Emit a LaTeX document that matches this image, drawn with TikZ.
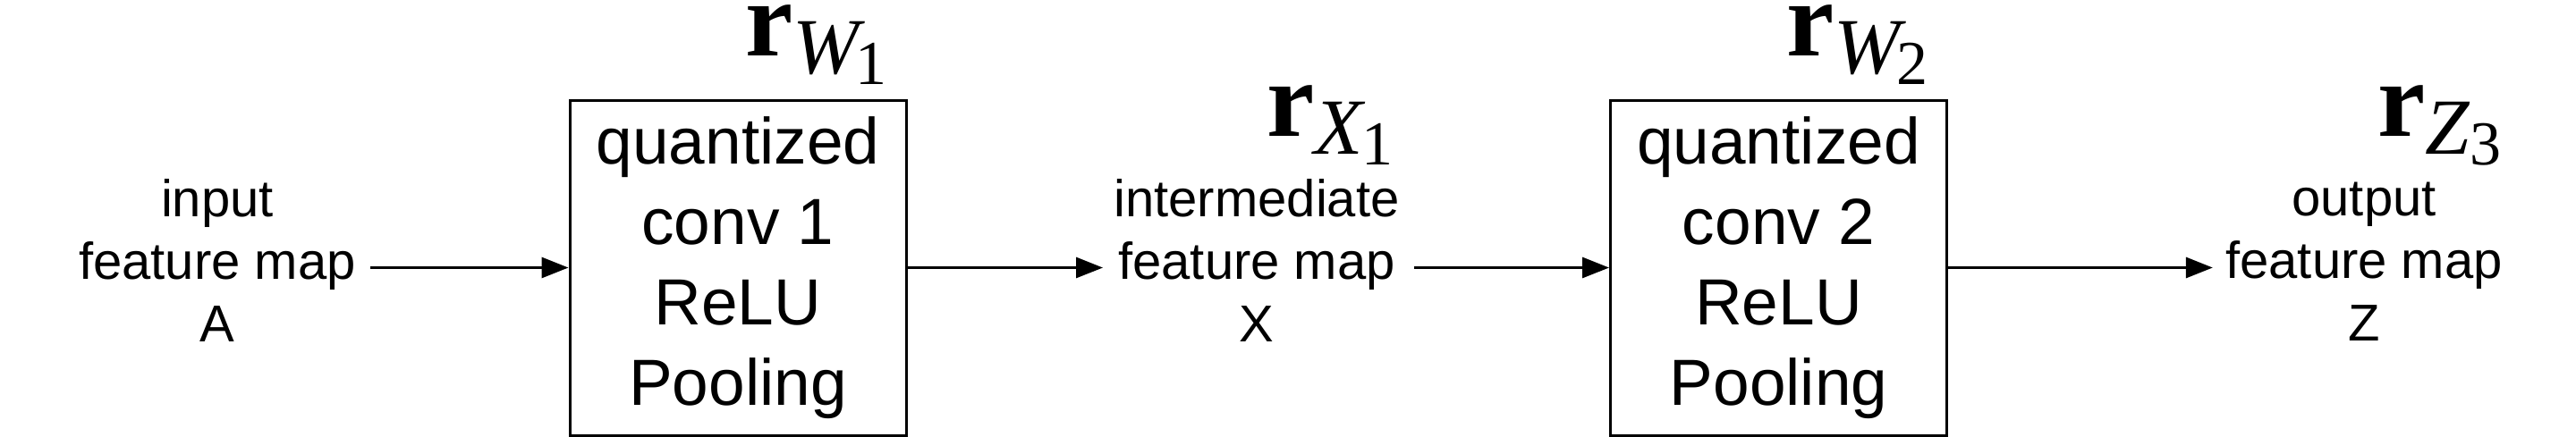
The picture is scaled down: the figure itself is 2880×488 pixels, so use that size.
\documentclass[tikz,border=0pt]{standalone}
\usepackage{fontspec}
\setmainfont{Liberation Sans}
\newfontfamily\tms{Liberation Serif}
\usetikzlibrary{arrows.meta}
\newcommand{\rlabel}[3]{{\tms\fontsize{60}{60}\selectfont\bfseries r}\raisebox{-10pt}{\tms\fontsize{44.5}{44.5}\selectfont\itshape #1}\kern#3\raisebox{-16pt}{\tms\fontsize{35}{35}\selectfont #2}}
\begin{document}
\begin{tikzpicture}[x=0.5pt,y=-0.5pt,
  lbl/.style={align=center,inner sep=0pt,font=\fontsize{29}{35}\selectfont},
  blk/.style={draw,line width=1.5pt,align=center,inner sep=0pt,minimum width=188pt,minimum height=187.5pt,font=\fontsize{36.5}{45}\selectfont},
  conn/.style={line width=1.5pt,-{Triangle[length=15pt,width=11.5pt]}},
  rlab/.style={anchor=base west,inner sep=0pt}]
\useasboundingbox (0,0) rectangle (2880,488);
% blocks
\node[blk] (b1) at (825,299.5) {quantized\\conv 1\\ReLU\\Pooling};
\node[blk] (b2) at (1988.5,299.5) {quantized\\conv 2\\ReLU\\Pooling};
% feature map labels
\node[lbl] (in) at (243,291.5) {input\\feature map\\A};
\node[lbl] (mid) at (1405,291.5) {intermediate\\feature map\\X};
\node[lbl] (out) at (2643,293) {output\\feature map\\Z};
% scale labels
\node[rlab] (rw1) at (833,62) {\rlabel{W}{1}{-2pt}};
\node[rlab] (rw2) at (1997,62) {\rlabel{W}{2}{-2pt}};
\node[rlab] (rx1) at (1416,152) {\rlabel{X}{1}{-1pt}};
\node[rlab] (rz3) at (2658,152) {\rlabel{Z}{3}{0pt}};
% connectors
\draw[conn,shorten <=8pt] (in.east |- b1.west) -- (b1.west);
\draw[conn,shorten >=6pt] (b1.east) -- (b1.east -| mid.west);
\draw[conn,shorten <=8pt] (mid.east |- b2.west) -- (b2.west);
\draw[conn,shorten >=7pt] (b2.east) -- (b2.east -| out.west);
\end{tikzpicture}
\end{document}
